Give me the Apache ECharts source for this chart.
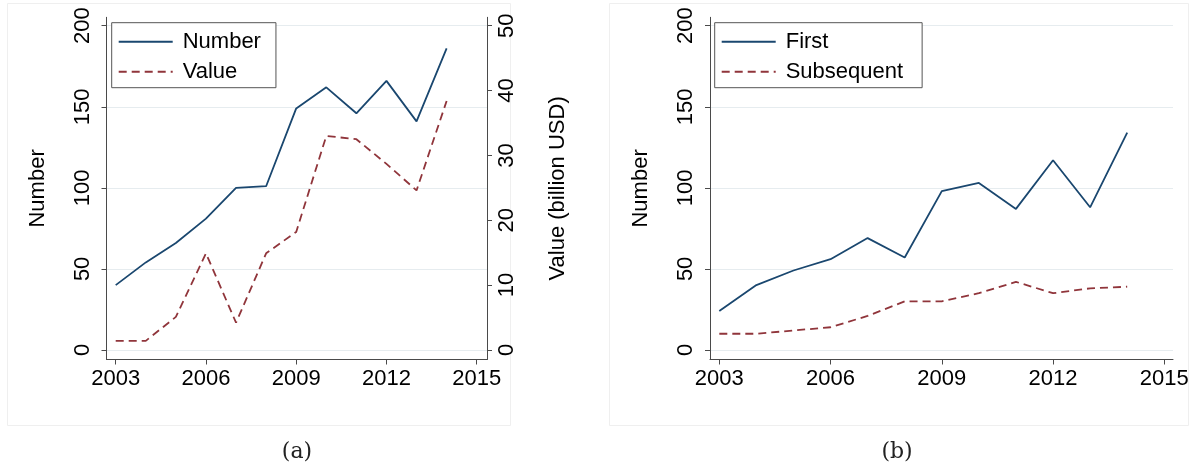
<!DOCTYPE html>
<html><head><meta charset="utf-8">
<script src="https://cdn.jsdelivr.net/npm/echarts@6/dist/echarts.min.js"></script>
<style>html,body{margin:0;padding:0;background:#fff}#c{width:1199px;height:466px}</style>
</head><body><div id="c"></div>
<script>
// ---- data ----
const years = [2003, 2004, 2005, 2006, 2007, 2008, 2009, 2010, 2011, 2012, 2013, 2014];
const numberDeals = [40, 54, 66, 81, 100, 101, 149, 162, 146, 166, 141, 186];
const valueBn = [1.4, 1.4, 5.1, 14.9, 4.2, 14.9, 18.2, 33.0, 32.5, 28.7, 24.6, 38.4];
const firstDeals = [24, 40, 49, 56, 69, 57, 98, 103, 87, 117, 88, 134];
const subsequentDeals = [10, 10, 12, 14, 21, 30, 30, 35, 42, 35, 38, 39];
const xTicks = [2003, 2006, 2009, 2012, 2015];
const yTicks = [0, 50, 100, 150, 200];
const valueTicks = [0, 10, 20, 30, 40, 50];
const captions = ['(a)', '(b)'];

// ---- style ----
const FONT = 'Liberation Sans';
const axisColor = '#4a4a4a';
const gridColor = '#e6ecef';
const navy = '#1a476f', maroon = '#90353b';
const FS = 22;

function pairs(xs, ys) { return xs.map((x, i) => [x, ys[i]]); }

function xAxisCfg(gridIndex, min, max) {
  return {
    type: 'value', gridIndex, min, max,
    axisLine: { show: true, onZero: false, lineStyle: { color: axisColor, width: 1 } },
    axisTick: { show: true, length: 5, customValues: xTicks, lineStyle: { color: axisColor } },
    axisLabel: { customValues: xTicks, margin: 8, color: '#000', fontFamily: FONT, fontSize: FS, formatter: v => String(v) },
    splitLine: { show: false }
  };
}
function yAxisCfg(gridIndex, position, min, max, ticks, name, margin, nameGap, split) {
  return {
    type: 'value', gridIndex, position, min, max,
    name, nameLocation: 'middle', nameGap, nameRotate: 90,
    nameTextStyle: { color: '#000', fontFamily: FONT, fontSize: FS },
    axisLine: { show: true, onZero: false, lineStyle: { color: axisColor, width: 1 } },
    axisTick: { show: true, length: 5, customValues: ticks, lineStyle: { color: axisColor } },
    axisLabel: { customValues: ticks, rotate: 90, margin, color: '#000', fontFamily: FONT, fontSize: FS, formatter: v => String(v) },
    splitLine: { show: split, lineStyle: { color: gridColor, width: 1 } }
  };
}
function legendCfg(data, left, padRight) {
  return {
    data, left, top: 22.7, orient: 'vertical',
    itemWidth: 54, itemHeight: 10, itemGap: 8,
    padding: [8, padRight, 5, 6],
    borderColor: '#555', borderWidth: 1, backgroundColor: '#fff',
    itemStyle: { opacity: 0 },
    textStyle: { color: '#000', fontFamily: FONT, fontSize: FS, lineHeight: 22, padding: [0, 0, 0, 5] }
  };
}
function lineSeries(name, xi, yi, data, color, dashed) {
  return {
    type: 'line', name, xAxisIndex: xi, yAxisIndex: yi, data, symbol: 'none',
    lineStyle: { color, width: 1.8, type: dashed ? [8, 5] : 'solid' },
    itemStyle: { color }, emphasis: { disabled: true }, animation: false
  };
}

const chart = echarts.init(document.getElementById('c'), null, { renderer: 'canvas' });
chart.setOption({
  animation: false,
  backgroundColor: '#fff',
  grid: [
    { left: 106.5, top: 17.3, width: 380.5, height: 342.2 },
    { left: 710, top: 17.3, width: 463, height: 342.2 }
  ],
  xAxis: [xAxisCfg(0, 2002.694, 2015.342), xAxisCfg(1, 2002.749, 2015.235)],
  yAxis: [
    yAxisCfg(0, 'left', -5.9, 205.2, yTicks, 'Number', 13, 58, true),
    yAxisCfg(0, 'right', -1.475, 51.3, valueTicks, 'Value (billion USD)', 9, 60, false),
    yAxisCfg(1, 'left', -5.9, 205.2, yTicks, 'Number', 13, 58, true)
  ],
  legend: [legendCfg(['Number', 'Value'], 111.7, 15), legendCfg(['First', 'Subsequent'], 714.7, 19)],
  series: [
    lineSeries('Number', 0, 0, pairs(years, numberDeals), navy, false),
    lineSeries('Value', 0, 1, pairs(years, valueBn), maroon, true),
    lineSeries('First', 1, 2, pairs(years, firstDeals), navy, false),
    lineSeries('Subsequent', 1, 2, pairs(years, subsequentDeals), maroon, true)
  ],
  graphic: [
    { type: 'rect', shape: { x: 7.5, y: 3.5, width: 503, height: 422 }, style: { fill: 'none', stroke: '#efefef', lineWidth: 1 }, silent: true, z: -1 },
    { type: 'rect', shape: { x: 609.5, y: 3.5, width: 579, height: 422 }, style: { fill: 'none', stroke: '#efefef', lineWidth: 1 }, silent: true, z: -1 },
    { type: 'text', x: 297, y: 452, style: { text: captions[0], font: '22px "DejaVu Serif"', fill: '#222', textAlign: 'center', textVerticalAlign: 'middle' } },
    { type: 'text', x: 897, y: 452, style: { text: captions[1], font: '22px "DejaVu Serif"', fill: '#222', textAlign: 'center', textVerticalAlign: 'middle' } }
  ]
});
</script>
</body></html>
